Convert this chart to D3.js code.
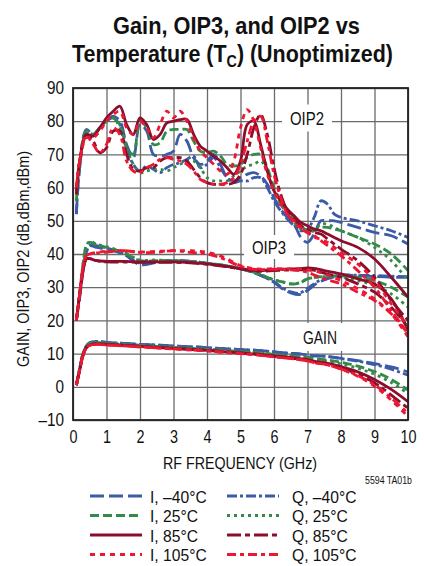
<!DOCTYPE html>
<html><head><meta charset="utf-8">
<script src="https://cdn.jsdelivr.net/npm/d3@7"></script>
<style>
body{margin:0;background:#fff}
svg{display:block}
text{font-family:"Liberation Sans",Arial,sans-serif;fill:#111}
</style>
</head><body>
<svg id="chart" width="424" height="566"></svg>
<script>
// ---------- data ----------
const xTicks = [0,1,2,3,4,5,6,7,8,9,10];
const yTicks = [-10,0,10,20,30,40,50,60,70,80,90];
const seriesNames = ["I, –40°C","Q, –40°C","I, 25°C","Q, 25°C","I, 85°C","Q, 85°C","I, 105°C","Q, 105°C"];

// frequency grid (GHz) used for OIP2 curves
const freqOIP2 = [0.1,0.2,0.4,0.6,0.8,1.0,1.2,1.4,1.6,1.8,2.0,2.2,2.4,2.6,2.8,3.0,3.2,3.4,3.6,3.8,4.0,4.2,4.4,4.6,4.8,5.0,5.2,5.4,5.6,5.8,6.0,6.2,6.4,6.6,6.8,7.0,7.2,7.4,7.6,7.8,8.0,8.5,9.0,9.5,10];
// frequency grid (GHz) used for OIP3 and gain curves
const freqLow = [0.1,0.2,0.3,0.4,0.5,0.7,1,1.5,2,2.5,3,3.5,4,4.5,5,5.5,6,6.25,6.5,6.75,7,7.25,7.5,8,8.5,9,9.5,10];

// OIP2 (dBm)
const oip2_I_m40 = [52,66,77.5,76,78,80,81.5,80,73,69,79,77,70,69.5,70,71,76,74,69,67,68,70,67,63,62,63,64,64.5,63.5,61,57,53.5,51,49,45,43.5,46,50,50,50,49.5,48,46.5,45.5,43];
const oip2_Q_m40 = [52,66,77,76,78,80,81,79,72,67,65,66.5,65.5,64.5,66,67,67.5,68.5,69.5,66,67,69,66,63,61.5,62,62,63,63,60,56,53,50.5,48.5,47,47.5,51,56,55,52,51,50,48.5,47,45];
const oip2_I_25  = [56,67,77,76,78,80,81,78,72,70,80,78,73,73.5,77,77.5,77.5,77.5,74,71,70.5,71,69.5,67,66.5,67,69,70,70,66,60,56,53,50.5,48.5,47,47,48,48,47.5,47,45,43,40,35];
const oip2_Q_25  = [56,67,77,76,78,80,81,79,72,67,64.5,65,65.5,65.5,65,66,67,68,68,66,63,62,62,62,63.5,65,66.5,67,68,65,59,55,52,49.5,47.5,46.5,47,49,49,48,47,45,42,38,32];
const oip2_I_85  = [58,68,76,75.5,78,81,83,84.5,79,76,81,79,74.5,76,79.5,80,80.5,80.5,76,72.5,71,69.5,68,66,64,68,79,80,73,65,59,56,53.5,51.5,49.5,48.5,47.5,47,46,45,44,42,38.5,33,27];
const oip2_Q_85  = [58,68,76,74,70.5,72,77,77,70,65.5,65,66,66,68,69,69,69,68,65.5,63,61.5,61,61,61,61.5,64,70,78,82,76,66,58,53,50.5,48.5,47.5,46.5,46,44.5,43,41.5,38,33,26,20];
const oip2_I_105 = [60,68,75,75,77,80,82,83,78,76,80,78,75,79,83,81,83,80,75,71,69,67,65,64,68,78,83.5,80,72,64,59,55,52,50,48,46.5,45,44.5,43.5,42,40.5,37,32,25,18];
const oip2_Q_105 = [60,68,75.5,73,70.5,73,78,76,68,65,64.5,66,67,68.5,69,68.5,68,67,65,62.5,61.5,61,61,61.5,63,67,74,80,81.5,74,64,57,52,49.5,47.5,46.5,45.5,44,42.5,41,39.5,35,30,23,16];

// OIP3 (dBm)
const oip3_I_m40 = [20,27,35,40.5,42.5,42,41.5,40,36.8,37.5,38,37.8,37.2,36.5,35.5,34,31.5,29.5,28.3,27.8,29,31,32.2,33.5,33.5,33.2,33,33];
const oip3_Q_m40 = [20,27,35,40.5,42.5,42.5,41.8,40.2,37.2,37.8,38,37.8,37.2,36.5,35.6,34,31.6,29.8,28.6,28.2,29.6,31.4,32.6,33.6,33.6,33.5,33.3,33.2];
const oip3_I_25  = [20,28,37,42.5,43.5,42.8,42,40.5,38,38,38,37.8,37.2,36.6,35.6,34.2,32.2,31.6,31,31.2,32.5,33,33.2,33.4,33,32,30,27];
const oip3_Q_25  = [20,28,37,42.5,43.8,43,42.2,40.6,38.2,38.2,38,37.8,37.2,36.6,35.6,34.2,32.2,31.6,31,31.3,32.5,33,33.2,33,32,30.5,28,24];
const oip3_I_85  = [20,28,35,38.5,38.6,38,37.8,37.8,37.6,37.6,37.6,37.4,37,36.4,35.6,35,35.3,35.4,35.5,35.6,35.8,35.6,35,34,32.5,31,26.5,17];
const oip3_Q_85  = [20,28,35,38.5,38.6,38,37.6,37.6,37.5,37.5,37.5,37.3,36.9,36.3,35.5,34.8,35,35.1,35.2,35.2,35.3,35,34.2,33,31,28.5,24,18];
const oip3_I_105 = [20,28,36,39.5,40,40.5,40.8,41,40.6,40.8,41,41,40.5,39,36.5,35.5,35.6,35.6,35.5,35.5,35.2,34.8,34,32,29.5,26.5,22,15];
const oip3_Q_105 = [20,28,36,39.5,40,40.3,40.6,41,40.5,40.5,41,40.5,40,38.5,36.3,35.3,35.4,35.4,35.2,35,34.5,33.5,32.5,31,28.5,26,22,16];

// Gain (dB)
const gain_I_m40 = [0.5,5.5,10,12.3,13.3,13.7,13.4,13.1,12.8,12.6,12.3,12.1,11.8,11.5,11.2,11.0,10.5,10.3,10.1,9.9,9.6,9.3,9.2,8.6,7.9,7.0,6.0,4.5];
const gain_Q_m40 = [0.5,5.5,10,12.3,13.3,13.7,13.4,13.1,12.8,12.6,12.3,12.1,11.8,11.5,11.2,11.0,10.5,10.3,10.1,9.9,9.6,9.3,9.2,8.5,7.7,6.7,5.3,3.5];
const gain_I_25  = [0.5,5.5,10,12.2,13.1,13.4,13.1,12.8,12.5,12.2,11.9,11.6,11.3,11.0,10.6,10.3,9.8,9.6,9.3,9.1,8.9,8.4,8.2,7.4,6.2,4.6,2.2,-1];
const gain_Q_25  = [0.5,5.5,10,12.2,13.1,13.4,13.1,12.8,12.5,12.2,11.9,11.6,11.3,11.0,10.6,10.3,9.7,9.5,9.2,9.0,8.7,8.2,7.9,6.9,5.6,3.8,1.3,-2];
const gain_I_85  = [0.5,5,9.5,11.8,12.6,12.9,12.8,12.5,12.2,11.9,11.6,11.3,11.0,10.6,10.2,9.8,9.3,9.1,8.8,8.5,8.2,7.6,7.3,6.1,4.5,2.2,-0.8,-4.5];
const gain_Q_85  = [0.5,5,9.5,11.8,12.6,12.9,12.8,12.5,12.2,11.9,11.6,11.3,11.0,10.6,10.2,9.8,9.2,9.0,8.7,8.4,8.0,7.3,7.0,5.7,3.8,1.2,-2.5,-6.5];
const gain_I_105 = [0.5,5,9.5,11.7,12.5,12.8,12.6,12.3,12.0,11.7,11.4,11.1,10.8,10.4,10.0,9.6,9.0,8.8,8.5,8.2,7.8,7.1,6.8,5.3,3.2,0.2,-4,-9];
const gain_Q_105 = [0.5,5,9.5,11.7,12.5,12.8,12.6,12.3,12.0,11.7,11.4,11.1,10.8,10.4,10.0,9.6,9.0,8.8,8.5,8.2,7.8,7.1,6.8,5.4,3.4,0.6,-3.4,-8];

// ---------- styles ----------
const style = {
  "I, –40°C": {color:"#3b5aa8", dash:"14,5"},
  "Q, –40°C": {color:"#3b5aa8", dash:"10,3,3,3"},
  "I, 25°C":  {color:"#348a49", dash:"9,4"},
  "Q, 25°C":  {color:"#348a49", dash:"3,4"},
  "I, 85°C":  {color:"#8c0d2c", dash:null},
  "Q, 85°C":  {color:"#8c0d2c", dash:"14,4,5,4"},
  "I, 105°C": {color:"#ec1733", dash:"5,5"},
  "Q, 105°C": {color:"#ec1733", dash:"9,4,4,4"}
};

const oip2Sets = [oip2_I_m40,oip2_Q_m40,oip2_I_25,oip2_Q_25,oip2_I_85,oip2_Q_85,oip2_I_105,oip2_Q_105];
const oip3Sets = [oip3_I_m40,oip3_Q_m40,oip3_I_25,oip3_Q_25,oip3_I_85,oip3_Q_85,oip3_I_105,oip3_Q_105];
const gainSets = [gain_I_m40,gain_Q_m40,gain_I_25,gain_Q_25,gain_I_85,gain_Q_85,gain_I_105,gain_Q_105];

// ---------- helpers ----------
function squeeze(sel, k){
  sel.each(function(){
    const l = this.getComputedTextLength();
    d3.select(this).attr("textLength", l*k).attr("lengthAdjust","spacingAndGlyphs");
  });
}
function fitWidth(sel, w){ sel.attr("textLength", w).attr("lengthAdjust","spacingAndGlyphs"); }
function hScale(node, cx, target){
  const w = node.getBBox().width;
  const k = target / w;
  d3.select(node).attr("transform",`translate(${cx},0) scale(${k},1) translate(${-cx},0)`);
}

// ---------- chart ----------
const svg = d3.select("#chart");
const L = 73, R = 408, T = 88, B = 420;
const x = d3.scaleLinear().domain([0,10]).range([L,R]);
const y = d3.scaleLinear().domain([-10,90]).range([B,T]);

// title
const t1 = svg.append("text").attr("x",236.5).attr("y",34).attr("text-anchor","middle")
  .style("font-size","24px").style("font-weight","bold").text("Gain, OIP3, and OIP2 vs");
hScale(t1.node(), 236.5, 247);
const t2 = svg.append("text").attr("x",232.5).attr("y",62).attr("text-anchor","middle")
  .style("font-size","24px").style("font-weight","bold");
t2.append("tspan").text("Temperature (T");
t2.append("tspan").attr("dy",5).style("font-size","16px").text("C");
t2.append("tspan").attr("dy",-5).text(") (Unoptimized)");
hScale(t2.node(), 232.5, 321);

// grid
const grid = svg.append("g");
grid.append("g").attr("transform",`translate(0,${B})`)
  .call(d3.axisBottom(x).tickValues(xTicks).tickSize(-(B-T)).tickFormat(""))
  .call(g=>g.select(".domain").remove())
  .call(g=>g.selectAll("line").attr("stroke","#6a6a6a").attr("stroke-width",1.3));
grid.append("g").attr("transform",`translate(${L},0)`)
  .call(d3.axisLeft(y).tickValues(yTicks).tickSize(-(R-L)).tickFormat(""))
  .call(g=>g.select(".domain").remove())
  .call(g=>g.selectAll("line").attr("stroke","#6a6a6a").attr("stroke-width",1.3));

// label background boxes (break the grid)
const labels = [
  {t:"OIP2", cx:307, cy:118, w:50, h:27},
  {t:"OIP3", cx:269, cy:247, w:50, h:24},
  {t:"GAIN", cx:320, cy:337, w:50, h:28}
];
svg.append("g").selectAll("rect").data(labels).join("rect")
  .attr("x",d=>d.cx-d.w/2).attr("y",d=>d.cy-d.h/2).attr("width",d=>d.w).attr("height",d=>d.h).attr("fill","#fff");

// clip
svg.append("clipPath").attr("id","plotclip").append("rect").attr("x",L).attr("y",T).attr("width",R-L).attr("height",B-T);

const line = d3.line().curve(d3.curveCatmullRom.alpha(0.5)).x(d=>x(d[0])).y(d=>y(d[1]));
const plot = svg.append("g").attr("clip-path","url(#plotclip)");
function drawSet(freqs, sets){
  sets.forEach((vals,i)=>{
    const st = style[seriesNames[i]];
    plot.append("path").datum(freqs.map((f,k)=>[f,vals[k]]))
      .attr("d",line).attr("fill","none").attr("stroke",st.color).attr("stroke-width",2.8)
      .attr("stroke-dasharray",st.dash).attr("stroke-linejoin","round");
  });
}
drawSet(freqLow, gainSets);
drawSet(freqLow, oip3Sets);
drawSet(freqOIP2, oip2Sets);

// frame
svg.append("rect").attr("x",L).attr("y",T).attr("width",R-L).attr("height",B-T)
  .attr("fill","none").attr("stroke","#222").attr("stroke-width",1.8);

// curve labels
svg.append("g").selectAll("text").data(labels).join("text")
  .attr("x",d=>d.cx).attr("y",d=>d.cy+6.5).attr("text-anchor","middle").style("font-size","18px").text(d=>d.t)
  .call(s=>fitWidth(s,34));

// axes tick labels
svg.append("g").attr("transform",`translate(0,${B})`)
  .call(d3.axisBottom(x).tickValues(xTicks).tickSize(0).tickPadding(10).tickFormat(d3.format("d")))
  .call(g=>g.select(".domain").remove())
  .call(g=>g.selectAll("text").style("font-size","18px").attr("fill","#111").style("font-family",null).call(s=>squeeze(s,0.8)));
svg.append("g").attr("transform",`translate(${L},0)`)
  .call(d3.axisLeft(y).tickValues(yTicks).tickSize(0).tickPadding(9).tickFormat(d=>d<0?"–"+Math.abs(d):d))
  .call(g=>g.select(".domain").remove())
  .call(g=>g.selectAll("text").style("font-size","18px").attr("fill","#111").style("font-family",null).call(s=>squeeze(s,0.85)));

// axis titles
svg.append("text").attr("x",240).attr("y",469).attr("text-anchor","middle").style("font-size","17px")
  .text("RF FREQUENCY (GHz)").call(s=>fitWidth(s,154));
svg.append("text").attr("transform","translate(29,259) rotate(-90)").attr("text-anchor","middle").style("font-size","16px")
  .text("GAIN, OIP3, OIP2 (dB,dBm,dBm)").call(s=>fitWidth(s,216));
svg.append("text").attr("x",412).attr("y",484).attr("text-anchor","end").style("font-size","10px")
  .text("5594 TA01b").call(s=>fitWidth(s,47));

// legend
const leg = svg.append("g");
seriesNames.forEach((name,i)=>{
  const col = i%2, row = Math.floor(i/2);
  const x0 = col===0 ? 90 : 227, ly = 496 + row*19.5;
  const st = style[name];
  leg.append("line").attr("x1",x0).attr("x2",x0+52).attr("y1",ly).attr("y2",ly)
    .attr("stroke",st.color).attr("stroke-width",3).attr("stroke-dasharray",st.dash);
  leg.append("text").attr("x",col===0 ? 150 : 292).attr("y",ly+6.5).style("font-size","17px").text(name)
    .call(s=>squeeze(s,0.92));
});
</script>
</body></html>
